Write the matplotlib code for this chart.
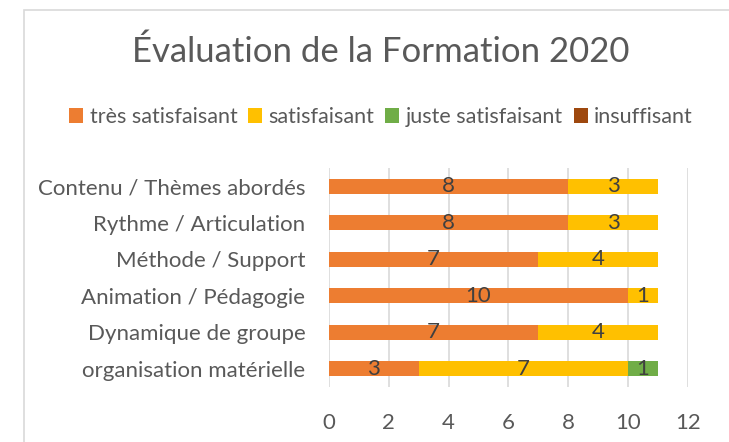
import matplotlib.pyplot as plt
from matplotlib.patches import Rectangle

plt.rcParams['font.family'] = ['Lato', 'DejaVu Sans']

categories = ['Contenu / Thèmes abordés', 'Rythme / Articulation', 'Méthode / Support',
              'Animation / Pédagogie', 'Dynamique de groupe', 'organisation matérielle']
tres_satisfaisant = [8, 8, 7, 10, 7, 3]
satisfaisant = [3, 3, 4, 1, 4, 7]
juste_satisfaisant = [0, 0, 0, 0, 0, 1]
insuffisant = [0, 0, 0, 0, 0, 0]

series = [('très satisfaisant', tres_satisfaisant, '#ED7D31'),
          ('satisfaisant', satisfaisant, '#FFC000'),
          ('juste satisfaisant', juste_satisfaisant, '#70AD47'),
          ('insuffisant', insuffisant, '#9E480E')]

grey = '#595959'

fig = plt.figure(figsize=(7.29, 4.42), dpi=100)
# chart frame
fig.patches.append(Rectangle((24 / 729, -0.1), 1.1, 1.1 - 10 / 442,
                             transform=fig.transFigure, fill=False,
                             edgecolor='#D9D9D9', linewidth=1.2))

ax = fig.add_axes([329 / 729, 1 - 387 / 442, (687.7 - 329) / 729, (387 - 168) / 442])

y = list(range(len(categories)))
left = [0] * len(categories)
for name, vals, col in series:
    bars = ax.barh(y, vals, left=left, height=0.4, color=col, label=name, zorder=3)
    labels = [str(v) if v else '' for v in vals]
    ax.bar_label(bars, labels=labels, label_type='center', color='#404040', fontsize=16)
    left = [a + b for a, b in zip(left, vals)]

ax.set_ylim(len(categories) - 0.5, -0.5)
ax.set_xlim(0, 12)
ax.set_xticks(range(0, 13, 2))
ax.set_yticks(y)
ax.set_yticklabels(categories)
ax.tick_params(axis='y', length=0, pad=17, labelsize=16, labelcolor=grey)
ax.tick_params(axis='x', length=0, pad=19, labelsize=16, labelcolor=grey)
ax.grid(axis='x', color='#D9D9D9', linewidth=1.2, zorder=0)
for s in ax.spines.values():
    s.set_visible(False)

fig.text(381 / 729, 1 - 52 / 442, 'Évaluation de la Formation 2020', ha='center', va='center',
         fontsize=25, color=grey)
fig.legend(loc='center', bbox_to_anchor=(381 / 729, 1 - 117 / 442), ncol=4, frameon=False,
           fontsize=15.5, labelcolor=grey, handlelength=0.65, handleheight=0.65,
           handletextpad=0.3, columnspacing=0.5)

fig.savefig('out.png', dpi=100)
